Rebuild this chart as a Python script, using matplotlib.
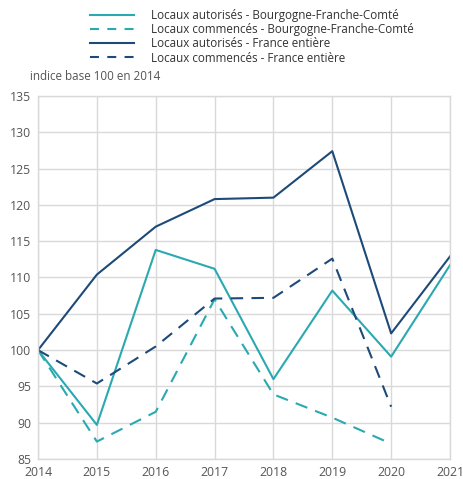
import matplotlib
matplotlib.use("Agg")
import matplotlib.pyplot as plt
from matplotlib.lines import Line2D

years = [2014, 2015, 2016, 2017, 2018, 2019, 2020, 2021]
bfc_autorises = [100, 89.7, 113.8, 111.2, 96.0, 108.2, 99.1, 111.7]
bfc_commences = [100, 87.4, 91.5, 107.0, 93.9, 90.7, 87.1]
fr_autorises = [100, 110.4, 117.0, 120.8, 121.0, 127.4, 102.3, 112.9]
fr_commences = [100, 95.4, 100.5, 107.1, 107.2, 112.6, 92.2]

labels = [
    "Locaux autorisés - Bourgogne-Franche-Comté",
    "Locaux commencés - Bourgogne-Franche-Comté",
    "Locaux autorisés - France entière",
    "Locaux commencés - France entière",
]
yticks = [85, 90, 95, 100, 105, 110, 115, 120, 125, 130, 135]

teal = "#2aa9b0"
navy = "#1e4a78"
txt = "#555555"
grid = "#d9d9d9"

plt.rcParams['font.family'] = ['Open Sans', 'DejaVu Sans']

fig = plt.figure(figsize=(4.63, 4.79), dpi=100)
ax = fig.add_axes([38/463, 1-459/479, (450-38)/463, (459-96)/479])

lw = 1.5
dash = (6, 4)
ax.plot(years, bfc_autorises, color=teal, lw=lw)
ax.plot(years[:len(bfc_commences)], bfc_commences, color=teal, lw=lw, dashes=dash)
ax.plot(years, fr_autorises, color=navy, lw=lw)
ax.plot(years[:len(fr_commences)], fr_commences, color=navy, lw=lw, dashes=dash)

ax.set_xlim(2014, 2021)
ax.set_ylim(85, 135)
ax.set_xticks(years)
ax.set_yticks(yticks)
ax.grid(True, color=grid, lw=1)
ax.set_axisbelow(True)
for s in ax.spines.values():
    s.set_color(grid)
    s.set_linewidth(1)
ax.tick_params(length=0, colors=txt, labelsize=8.8, pad=5)

fig.text(30/463, 1-77/479, "indice base 100 en 2014", color=txt, fontsize=8.4, va="center", ha="left")

leg_dash = (4.3, 4.0)
handles = [
    Line2D([], [], color=teal, lw=lw),
    Line2D([], [], color=teal, lw=lw, dashes=leg_dash),
    Line2D([], [], color=navy, lw=lw),
    Line2D([], [], color=navy, lw=lw, dashes=leg_dash),
]
leg = fig.legend(handles, labels, loc="upper left", bbox_to_anchor=(90/463, 1-9/479),
                 frameon=False, fontsize=8.4, handlelength=3.75, handletextpad=1.45,
                 labelspacing=0.1, borderaxespad=0, borderpad=0)
for t in leg.get_texts():
    t.set_color("#333333")

fig.savefig("out.png", dpi=100)
